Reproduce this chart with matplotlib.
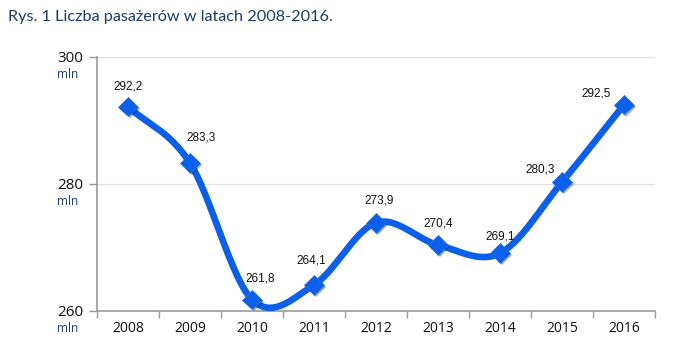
import numpy as np
import matplotlib
matplotlib.use("Agg")
import matplotlib.pyplot as plt
import matplotlib.patheffects as pe

years = ["2008", "2009", "2010", "2011", "2012", "2013", "2014", "2015", "2016"]
passengers = [292.2, 283.3, 261.8, 264.1, 273.9, 270.4, 269.1, 280.3, 292.5]
labels = ["292,2", "283,3", "261,8", "264,1", "273,9", "270,4", "269,1", "280,3", "292,5"]
yticks = [260, 280, 300]

# label offsets in points (dx, dy)
label_offsets = [(0, 10), (8, 14), (6, 11), (-2, 13), (2, 12), (0, 11), (0, 8), (-16, 5), (-20, 4)]

LINE = "#0b5fe8"
NAVY = "#1d3b66"
GREY = "#9a9a9a"

fig = plt.figure(figsize=(6.8, 3.62), dpi=100)
ax = fig.add_axes([97/680, 1-311/362, (655-97)/680, (311-57)/362])

x = np.arange(len(years))
y = np.array(passengers)

# Catmull-Rom smoothing for the drawn line
def catmull(xp, yp, n=30, tension=0.5):
    px = np.concatenate([[2*xp[0]-xp[1]], xp, [2*xp[-1]-xp[-2]]])
    py = np.concatenate([[2*yp[0]-yp[1]], yp, [2*yp[-1]-yp[-2]]])
    xs, ys = [], []
    for i in range(1, len(px)-2):
        t = np.linspace(0, 1, n, endpoint=False)
        m1x = tension*(px[i+1]-px[i-1]); m2x = tension*(px[i+2]-px[i])
        m1y = tension*(py[i+1]-py[i-1]); m2y = tension*(py[i+2]-py[i])
        h00 = 2*t**3-3*t**2+1; h10 = t**3-2*t**2+t; h01 = -2*t**3+3*t**2; h11 = t**3-t**2
        xs.append(h00*px[i]+h10*m1x+h01*px[i+1]+h11*m2x)
        ys.append(h00*py[i]+h10*m1y+h01*py[i+1]+h11*m2y)
    xs.append([xp[-1]]); ys.append([yp[-1]])
    return np.concatenate(xs), np.concatenate(ys)

sx, sy = catmull(x.astype(float), y)
ax.plot(sx, sy, color=LINE, lw=4.8, solid_capstyle="round", zorder=3, clip_on=False)
ax.plot(x, y, linestyle="none", marker="D", ms=10, color=LINE, mec="#2a6fe0", mew=0.6,
        zorder=4, clip_on=False,
        path_effects=[pe.SimplePatchShadow(offset=(1.5, -1.5), alpha=0.35), pe.Normal()])

for xi, yi, lab, off in zip(x, y, labels, label_offsets):
    ax.annotate(lab, (xi, yi), xytext=off, textcoords="offset points", ha="center", va="bottom",
                fontsize=8.5, family="Liberation Sans", color="#111111", zorder=5)

ax.set_xlim(-0.5, len(years)-0.5)
ax.set_ylim(260, 300)
ax.set_yticks(yticks)
ax.set_yticklabels([str(v) for v in yticks], fontsize=11, family="Open Sans", color="#111111")
for v in yticks:
    ax.annotate("mln", xy=(57/680, v), xycoords=("figure fraction", "data"),
                xytext=(0, -8), textcoords="offset points", ha="left", va="top",
                fontsize=8.5, family="Open Sans", color=NAVY, annotation_clip=False)
ax.set_xticks(x)
ax.set_xticklabels(years, fontsize=10, family="Open Sans", color="#111111")
ax.set_xticks(np.arange(-0.5, len(years)), minor=True)
ax.tick_params(axis="x", which="major", length=0, pad=7)
ax.tick_params(axis="x", which="minor", length=5, color=GREY, width=1)
ax.tick_params(axis="y", length=6, color=GREY, width=1, pad=4)

for v in [280, 300]:
    ax.axhline(v, color="#e2e2e2", lw=0.9, zorder=1)

for s in ["top", "right"]:
    ax.spines[s].set_visible(False)
for s in ["left", "bottom"]:
    ax.spines[s].set_color(GREY)
    ax.spines[s].set_linewidth(1.2)

fig.text(8/680, 1-17/362, "Rys. 1 Liczba pasażerów w latach 2008-2016.", fontsize=11.7,
         family="Lato", color=NAVY, ha="left", va="center")

fig.savefig("out.png", dpi=100)
